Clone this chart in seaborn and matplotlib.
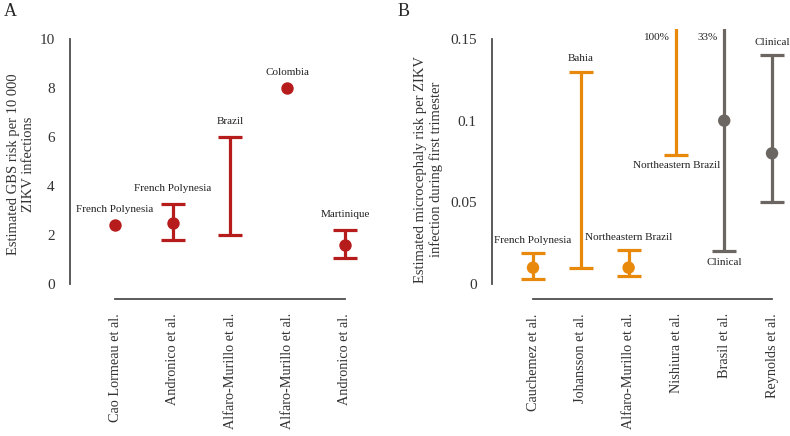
import numpy as np
import pandas as pd
import seaborn as sns
import matplotlib.pyplot as plt

# Panel A: GBS risk per 10 000 ZIKV infections
gbs_studies = ["Cao Lormeau et al.", "Andronico et al.", "Alfaro-Murillo et al.",
               "Alfaro-Murillo et al.", "Andronico et al."]
gbs_point = [2.4, 2.5, np.nan, 8.0, 1.6]
gbs_low = [np.nan, 1.8, 2.0, np.nan, 1.05]
gbs_high = [np.nan, 3.25, 6.0, np.nan, 2.2]
gbs_place = ["French Polynesia", "French Polynesia", "Brazil", "Colombia", "Martinique"]

# Panel B: microcephaly risk, first trimester
mic_studies = ["Cauchemez et al.", "Johansson et al.", "Alfaro-Murillo et al.",
               "Nishiura et al.", "Brasil et al.", "Reynolds et al."]
mic_point = [0.01, np.nan, 0.01, np.nan, 0.10, 0.08]
mic_low = [0.003, 0.01, 0.005, 0.079, 0.02, 0.05]
mic_high = [0.019, 0.13, 0.021, 1.0, 0.33, 0.14]
mic_group = ["orange", "orange", "orange", "orange", "grey", "grey"]

RED = "#b71c1c"
ORANGE = "#e8890c"
GREY = "#6b6662"
SPINE = "#4d4d4d"
FONT = ["Liberation Serif", "DejaVu Serif"]


def style_axis(ax, ymax, xmax):
    sns.despine(ax=ax)
    ax.spines["bottom"].set_position(("outward", 11))
    ax.spines["left"].set_bounds(0, ymax)
    ax.spines["bottom"].set_bounds(0, xmax)
    for s in ["left", "bottom"]:
        ax.spines[s].set_color(SPINE)
        ax.spines[s].set_linewidth(1.3)
    ax.tick_params(direction="out", length=8, width=1.1, color=SPINE,
                   labelsize=11, labelcolor="#333333", pad=3)
    ax.tick_params(axis="x", labelrotation=90, pad=2, labelsize=10.3)
    ax.set_xlabel("")
    ax.grid(False)


def ranges(ax, x, low, high, color):
    mid = (np.array(low) + np.array(high)) / 2
    err = [mid - np.array(low), np.array(high) - mid]
    ax.errorbar(x, mid, yerr=err, fmt="none", ecolor=color, elinewidth=2.3,
                capsize=8.5, capthick=2.3, zorder=2)


def main():
    sns.set_style("white")
    plt.rcParams["font.family"] = FONT

    fig = plt.figure(figsize=(7.9, 4.36), dpi=100)
    axA = fig.add_axes([70 / 790, 152 / 436, 315 / 790, 255 / 436])
    axB = fig.add_axes([492 / 790, 152 / 436, 298 / 790, 255 / 436])

    # --- panel A
    dfA = pd.DataFrame({"x": range(len(gbs_studies)), "point": gbs_point,
                        "low": gbs_low, "high": gbs_high, "place": gbs_place})
    ranges(axA, dfA["x"], dfA["low"], dfA["high"], RED)
    sns.scatterplot(data=dfA, x="x", y="point", color=RED, s=80, linewidth=0,
                    ax=axA, zorder=3)
    for _, r in dfA.iterrows():
        top = r["high"] if not np.isnan(r["high"]) else r["point"]
        axA.text(r["x"], top + 0.45, r["place"], ha="center", va="bottom",
                 fontsize=8, color="#222222")
    axA.set_xlim(-0.783, 4.696)
    axA.set_ylim(0, 10.41)
    axA.set_xticks(range(len(gbs_studies)))
    axA.set_xticklabels(gbs_studies)
    axA.set_yticks([0, 2, 4, 6, 8, 10])
    axA.set_ylabel("Estimated GBS risk per 10 000\nZIKV infections", fontsize=10.5,
                   color="#333333", linespacing=1.15)
    axA.yaxis.set_label_coords(-0.112, 0.47)
    style_axis(axA, 10, 4)

    # --- panel B
    dfB = pd.DataFrame({"x": range(len(mic_studies)), "point": mic_point,
                        "low": mic_low, "high": mic_high, "group": mic_group})
    for grp, col in [("orange", ORANGE), ("grey", GREY)]:
        sub = dfB[dfB["group"] == grp]
        ranges(axB, sub["x"], sub["low"], sub["high"], col)
    sns.scatterplot(data=dfB, x="x", y="point", hue="group",
                    palette={"orange": ORANGE, "grey": GREY}, s=80, linewidth=0,
                    legend=False, ax=axB, zorder=3)
    notes = [(0, 0.019 + 0.005, "French Polynesia", "center", "bottom"),
             (1, 0.13 + 0.005, "Bahia", "center", "bottom"),
             (2, 0.021 + 0.005, "Northeastern Brazil", "center", "bottom"),
             (3, 0.079 - 0.004, "Northeastern Brazil", "center", "top"),
             (4, 0.02 - 0.004, "Clinical", "center", "top"),
             (5, 0.14 + 0.005, "Clinical", "center", "bottom")]
    for x, y, txt, ha, va in notes:
        axB.text(x, y, txt, ha=ha, va=va, fontsize=8, color="#222222")
    axB.text(2.86, 0.151, "100%", ha="right", va="center", fontsize=8, color="#222222")
    axB.text(3.86, 0.151, "33%", ha="right", va="center", fontsize=8, color="#222222")
    axB.set_xlim(-0.858, 5.376)
    axB.set_ylim(0, 0.1561)
    axB.set_xticks(range(len(mic_studies)))
    axB.set_xticklabels(mic_studies)
    axB.set_yticks([0, 0.05, 0.1, 0.15])
    axB.set_yticklabels(["0", "0.05", "0.1", "0.15"])
    axB.set_ylabel("Estimated microcephaly risk per ZIKV\ninfection during first trimester",
                   fontsize=10.5, color="#333333", linespacing=1.15)
    axB.yaxis.set_label_coords(-0.165, 0.45)
    style_axis(axB, 0.15, 5)

    fig.text(4 / 790, 1 - 11 / 436, "A", fontsize=13, va="center")
    fig.text(398 / 790, 1 - 11 / 436, "B", fontsize=13, va="center")

    fig.savefig("out.png", dpi=100)
    plt.close(fig)


if __name__ == "__main__":
    main()
